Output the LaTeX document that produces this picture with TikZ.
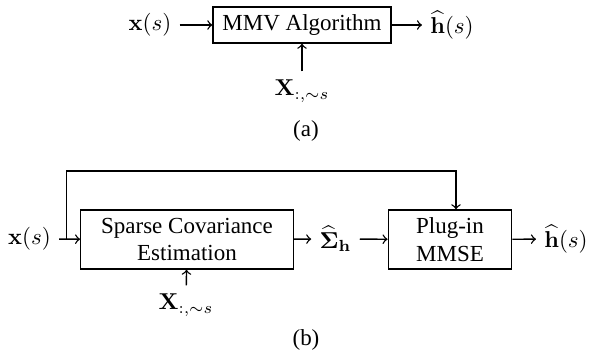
\documentclass[tikz,border=0pt]{standalone}
\usepackage[no-math]{fontspec}
\setmainfont{Liberation Serif}
\usepackage{amsmath,amssymb}
\usepackage{tikz}
\usetikzlibrary{arrows}

\begin{document}
\begin{tikzpicture}[x=0.435pt, y=-0.435pt, semithick,
  blk/.style={draw, align=center, inner sep=1pt}]
 \useasboundingbox (0,0) rectangle (595,355);
 % (a) MMV
 \node (xa) at (150,25) {$\mathbf{x}(s)$};
 \node[blk, minimum width=77.4pt, minimum height=15.7pt] (mmv) at (302,25) {MMV Algorithm};
 \node (ha) at (452,25) {$\widehat{\mathbf{h}}(s)$};
 \node (Xa) at (302,91) {$\mathbf{X}_{:,\sim s}$};
 \node (capa) at (306,131) {(a)};
 \path[->]
  (xa) edge (mmv)
  (mmv) edge (ha)
  (Xa) edge (mmv)
  ;
 % (b) covariance + plug-in
 \node (xb) at (29.5,239) {$\mathbf{x}(s)$};
 \node[blk, minimum width=92.4pt, minimum height=25.7pt] (sce) at (187,239.5) {Sparse Covariance\\Estimation};
 \node (sig) at (335.5,239) {$\widehat{\mathbf{\Sigma}}_{\mathbf{h}}$};
 \node[blk, minimum width=53.7pt, minimum height=25.7pt] (pim) at (450,239.5) {Plug-in\\MMSE};
 \node (hb) at (566,239) {$\widehat{\mathbf{h}}(s)$};
 \node (Xb) at (186,305) {$\mathbf{X}_{:,\sim s}$};
 \node (capb) at (306,340) {(b)};
 \coordinate (split) at (66.5,239);
 \coordinate (fb) at (456,171);
 \path[->]
  (xb) edge (sce)
  (sce) edge (sig)
  (sig) edge (pim)
  (pim) edge (hb)
  (Xb) edge (sce)
  ;
 \draw[->] (split) |- (fb) -- (fb |- pim.north);
\end{tikzpicture}
\end{document}
